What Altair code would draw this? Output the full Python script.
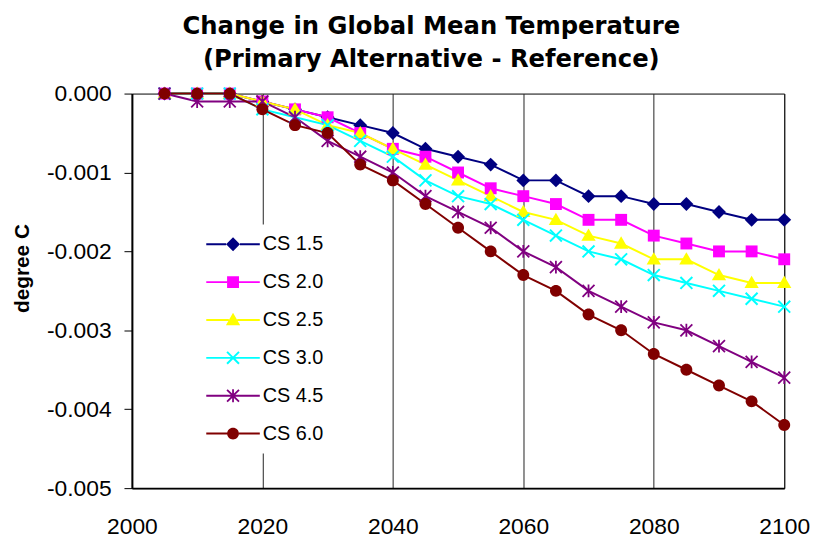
import math
import altair as alt
import pandas as pd

# ---------------- data ----------------
years = list(range(2005, 2101, 5))
series_names = ["CS 1.5", "CS 2.0", "CS 2.5", "CS 3.0", "CS 4.5", "CS 6.0"]

cs15 = [0, 0, 0, -0.0001, -0.0002, -0.0003, -0.0004, -0.0005, -0.0007, -0.0008,
        -0.0009, -0.0011, -0.0011, -0.0013, -0.0013, -0.0014, -0.0014, -0.0015, -0.0016, -0.0016]
cs20 = [0, 0, 0, -0.0001, -0.0002, -0.0003, -0.0005, -0.0007, -0.0008, -0.0010,
        -0.0012, -0.0013, -0.0014, -0.0016, -0.0016, -0.0018, -0.0019, -0.0020, -0.0020, -0.0021]
cs25 = [0, 0, 0, -0.0001, -0.0002, -0.0004, -0.0005, -0.0007, -0.0009, -0.0011,
        -0.0013, -0.0015, -0.0016, -0.0018, -0.0019, -0.0021, -0.0021, -0.0023, -0.0024, -0.0024]
cs30 = [0, 0, 0, -0.0002, -0.0003, -0.0004, -0.0006, -0.0008, -0.0011, -0.0013,
        -0.0014, -0.0016, -0.0018, -0.0020, -0.0021, -0.0023, -0.0024, -0.0025, -0.0026, -0.0027]
cs45 = [0, -0.0001, -0.0001, -0.0001, -0.0003, -0.0006, -0.0008, -0.0010, -0.0013, -0.0015,
        -0.0017, -0.0020, -0.0022, -0.0025, -0.0027, -0.0029, -0.0030, -0.0032, -0.0034, -0.0036]
cs60 = [0, 0, 0, -0.0002, -0.0004, -0.0005, -0.0009, -0.0011, -0.0014, -0.0017,
        -0.0020, -0.0023, -0.0025, -0.0028, -0.0030, -0.0033, -0.0035, -0.0037, -0.0039, -0.0042]

series_values = [cs15, cs20, cs25, cs30, cs45, cs60]
colors = ["#000080", "#FF00FF", "#FFFF00", "#00FFFF", "#800080", "#800000"]

x_ticks = [2000, 2020, 2040, 2060, 2080, 2100]
y_ticks = [0.0, -0.001, -0.002, -0.003, -0.004, -0.005]

rows = []
for name, vals in zip(series_names, series_values):
    for yr, v in zip(years, vals):
        rows.append({"year": yr, "value": v, "series": name})
df = pd.DataFrame(rows)

# ---------------- marker shapes (unit square -1..1, 10px per unit at size 400) ----------------
def fmt(v):
    return f"{v:.3f}"

def poly(pts):
    return "M" + "L".join(f"{fmt(px)},{fmt(py)}" for px, py in pts) + "Z"

def star(arms, t):
    arms = sorted(arms)
    pts = []
    n = len(arms)
    for i, (ang, length) in enumerate(arms):
        th = math.radians(ang)
        ux, uy = math.cos(th), math.sin(th)
        vx, vy = -uy, ux
        pts.append((length * ux - t * vx, length * uy - t * vy))
        pts.append((length * ux + t * vx, length * uy + t * vy))
        nxt = arms[(i + 1) % n][0]
        if nxt <= ang:
            nxt += 360
        d = math.radians(nxt - ang)
        mid = th + d / 2
        r = t / math.sin(d / 2)
        pts.append((r * math.cos(mid), r * math.sin(mid)))
    return poly(pts)

diamond = poly([(0, -0.7), (0.7, 0), (0, 0.7), (-0.7, 0)])
square = poly([(-0.6, -0.6), (0.6, -0.6), (0.6, 0.6), (-0.6, 0.6)])
triangle = poly([(0, -0.72), (0.72, 0.52), (-0.72, 0.52)])
xmark = star([(45, 0.85), (135, 0.85), (225, 0.85), (315, 0.85)], 0.1)
asterisk = star([(45, 0.85), (90, 0.65), (135, 0.85), (225, 0.85), (270, 0.65), (315, 0.85)], 0.09)
circle = "M0.6,0A0.6,0.6 0 1,1 -0.6,0A0.6,0.6 0 1,1 0.6,0Z"

plot_shapes = [diamond, square, triangle, xmark, asterisk, circle]
edges = [0.7, 0.6, 0.42, 0.14, 0.09, 0.6]

def with_line(path, e, L=2.7, h=0.1):
    return (path + poly([(-L, -h), (-e, -h), (-e, h), (-L, h)])
            + poly([(e, -h), (L, -h), (L, h), (e, h)]))

legend_shapes = [with_line(p, e) for p, e in zip(plot_shapes, edges)]

# ---------------- chart ----------------
FONT = "Liberation Sans"

x_enc = alt.X(
    "year:Q",
    scale=alt.Scale(domain=[2000, 2100], nice=False, zero=False),
    axis=alt.Axis(values=x_ticks, format="d", title=None, grid=True,
                  gridColor="#222222", gridWidth=1, ticks=False, tickSize=0,
                  labelPadding=28, labelFlush=False),
)
y_enc = alt.Y(
    "value:Q",
    scale=alt.Scale(domain=[-0.005, 0], nice=False, zero=False),
    axis=alt.Axis(values=y_ticks, grid=False, tickSize=8, labelPadding=13,
                  labelExpr="replace(format(datum.value, '.3f'), '\u2212', '-')",
                  title="degree C", titleX=-110.5, titleY=176, titleAngle=270,
                  titleAlign="center", titleBaseline="middle", labelFlush=False),
)

color_scale = alt.Scale(domain=series_names, range=colors)

legend_params = dict(
    orient="none", legendX=82, legendY=132, fillColor="white", padding=10,
    title=None, labelFont=FONT, labelFontSize=20, labelColor="black",
    symbolSize=400, symbolOpacity=1, symbolStrokeWidth=0,
    labelOffset=20, rowPadding=18.2,
)

base = alt.Chart(df)

lines = base.mark_line(strokeWidth=2).encode(
    x=x_enc, y=y_enc,
    color=alt.Color("series:N", scale=color_scale, legend=None),
)

points = base.mark_point(filled=True, size=400, opacity=1, strokeWidth=0).encode(
    x=x_enc, y=y_enc,
    color=alt.Color("series:N", scale=color_scale, legend=None),
    shape=alt.Shape("series:N", scale=alt.Scale(domain=series_names, range=plot_shapes), legend=None),
)

legend_layer = base.mark_point(filled=True, size=400, opacity=0).encode(
    x=x_enc, y=y_enc,
    color=alt.Color("series:N", scale=color_scale, legend=alt.Legend(**legend_params)),
    shape=alt.Shape("series:N", scale=alt.Scale(domain=series_names, range=legend_shapes),
                    legend=alt.Legend(**legend_params)),
)

chart = (
    alt.layer(lines, points, legend_layer)
    .resolve_scale(color="independent", shape="independent")
    .properties(
        width=658,
        height=398,
        title=alt.TitleParams(
            text=["Change in Global Mean Temperature", "(Primary Alternative - Reference)"],
            font="DejaVu Sans", fontSize=24.5, fontWeight="bold", color="black",
            anchor="middle", dx=-27, offset=10, lineHeight=34, frame="group",
        ),
        autosize=alt.AutoSizeParams(type="none"),
        padding={"left": 125, "top": 84, "right": 26, "bottom": 50},
        background="white",
    )
    .configure_view(stroke="black", strokeWidth=1)
    .configure_axis(
        labelFont=FONT, labelFontSize=23, labelColor="black",
        titleFont=FONT, titleFontSize=21, titleFontWeight="bold", titleColor="black",
        tickColor="black", domainColor="black", domainWidth=2,
    )
)

chart.save("out.html", embed_options={"renderer": "svg", "actions": False})
